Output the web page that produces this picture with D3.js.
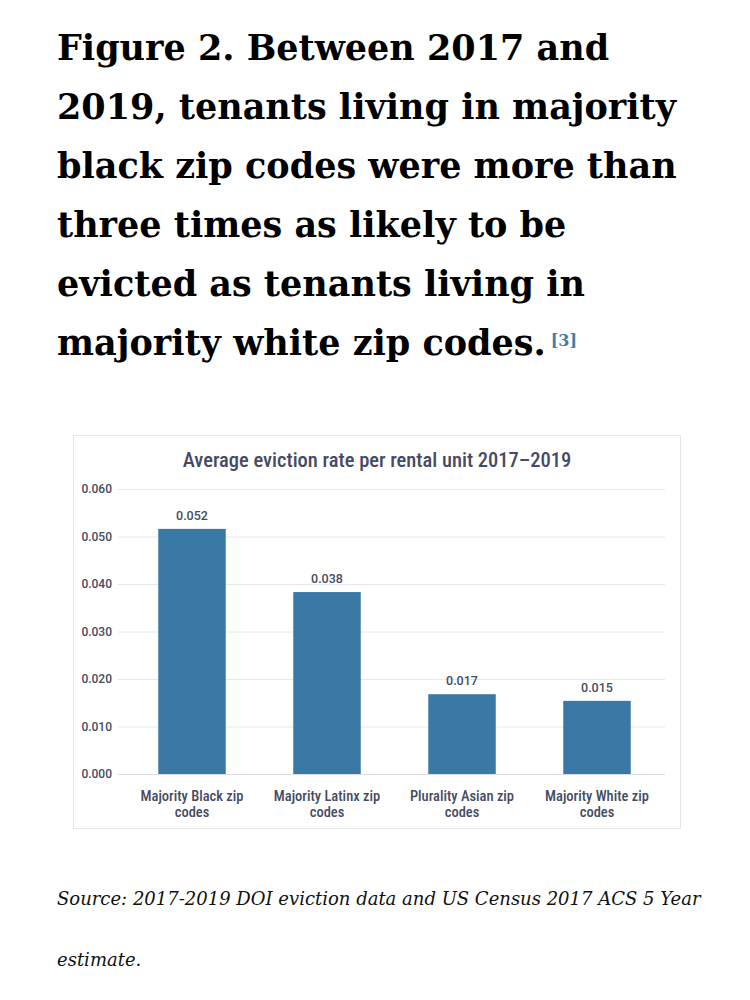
<!DOCTYPE html>
<html>
<head>
<meta charset="utf-8">
<script src="https://cdn.jsdelivr.net/npm/d3@7"></script>
<style>
  body { margin: 0; background: #fff; }
</style>
</head>
<body>
<svg id="chart" width="750" height="1000"></svg>
<script>
// headline + notes
var headlineLines = [
  "Figure 2. Between 2017 and",
  "2019, tenants living in majority",
  "black zip codes were more than",
  "three times as likely to be",
  "evicted as tenants living in",
  "majority white zip codes."
];
var footnoteMark = "[3]";
var sourceLines = [
  "Source: 2017-2019 DOI eviction data and US Census 2017 ACS 5 Year",
  "estimate."
];

// chart data
var chartTitle = "Average eviction rate per rental unit 2017\u20132019";
var categories = [
  ["Majority Black zip", "codes"],
  ["Majority Latinx zip", "codes"],
  ["Plurality Asian zip", "codes"],
  ["Majority White zip", "codes"]
];
var rates = [0.0516, 0.0383, 0.0168, 0.0154];
var rateLabels = ["0.052", "0.038", "0.017", "0.015"];
var yTicks = [0, 0.01, 0.02, 0.03, 0.04, 0.05, 0.06];

var svg = d3.select("#chart");
var ink = "#454b62";
var barColor = "#3a79a6";
var serif = "'DejaVu Serif', Georgia, serif";
var cond = "'Liberation Sans Narrow', 'Roboto Condensed', 'Arial Narrow', Roboto, sans-serif";
var nums = "Roboto, 'Liberation Sans', sans-serif";

// headline
var head = svg.append("g").attr("class", "headline");
head.selectAll("text")
  .data(headlineLines)
  .enter()
  .append("text")
  .attr("x", 57)
  .attr("y", function(d, i) { return 60 + i * 59; })
  .style("font-family", serif)
  .style("font-weight", "bold")
  .style("font-size", "35px")
  .style("fill", "#000")
  .text(function(d) { return d; });

// footnote marker after the last line
var lastLine = head.selectAll("text").nodes()[headlineLines.length - 1];
var lastW = lastLine.getComputedTextLength();
head.append("text")
  .attr("x", 57 + lastW + 5)
  .attr("y", 346)
  .style("font-family", serif)
  .style("font-size", "16px")
  .style("font-weight", "bold")
  .style("fill", "#3d7fab")
  .text(footnoteMark);

// chart frame
svg.append("rect")
  .attr("x", 73.5).attr("y", 435.5)
  .attr("width", 607).attr("height", 393)
  .style("fill", "#fff")
  .style("stroke", "#e3e5ea");

svg.append("text")
  .attr("x", 377).attr("y", 467)
  .attr("text-anchor", "middle")
  .style("font-family", cond)
  .style("font-size", "20.5px")
  .style("font-weight", "500")
  .style("fill", ink)
  .text(chartTitle);

// scales
var y = d3.scaleLinear().domain([0, 0.06]).range([774, 489]);
var x = d3.scaleBand()
  .domain(d3.range(categories.length))
  .range([124.5, 664.5])
  .paddingInner(0.5)
  .paddingOuter(0.25);

// gridlines + y labels
var yAxis = d3.axisLeft(y)
  .tickValues(yTicks)
  .tickSize(-547)
  .tickFormat(d3.format(".3f"));

var gy = svg.append("g")
  .attr("transform", "translate(118,0)")
  .call(yAxis);
gy.select(".domain").remove();
gy.selectAll(".tick line")
  .style("stroke", function(d) { return d === 0 ? "#d9dce4" : "#e6e8ef"; })
  .style("stroke-width", 1);
gy.selectAll(".tick text")
  .attr("x", -6)
  .style("font-family", nums)
  .style("font-weight", "500")
  .style("font-size", "12px")
  .style("fill", ink);

// bars
var bars = svg.selectAll(".bar")
  .data(rates)
  .enter()
  .append("g")
  .attr("class", "bar");

bars.append("rect")
  .attr("x", function(d, i) { return x(i); })
  .attr("y", function(d) { return y(d); })
  .attr("width", x.bandwidth())
  .attr("height", function(d) { return y(0) - y(d); })
  .style("fill", barColor);

bars.append("text")
  .attr("x", function(d, i) { return x(i) + x.bandwidth() / 2; })
  .attr("y", function(d) { return y(d) - 9; })
  .attr("text-anchor", "middle")
  .style("font-family", nums)
  .style("font-weight", "500")
  .style("font-size", "12.5px")
  .style("fill", ink)
  .text(function(d, i) { return rateLabels[i]; });

// category labels
var cats = svg.selectAll(".cat")
  .data(categories)
  .enter()
  .append("text")
  .attr("class", "cat")
  .attr("text-anchor", "middle")
  .style("font-family", cond)
  .style("font-weight", "500")
  .style("font-size", "14.5px")
  .style("fill", ink);

cats.selectAll("tspan")
  .data(function(d, i) { return d.map(function(s) { return {s: s, i: i}; }); })
  .enter()
  .append("tspan")
  .attr("x", function(d) { return x(d.i) + x.bandwidth() / 2; })
  .attr("y", function(d, j) { return 801 + j * 16; })
  .text(function(d) { return d.s; });

// source
svg.append("g").selectAll("text")
  .data(sourceLines)
  .enter()
  .append("text")
  .attr("x", 57)
  .attr("y", function(d, i) { return 905 + i * 61; })
  .style("font-family", serif)
  .style("font-style", "italic")
  .style("font-size", "18px")
  .style("fill", "#111")
  .text(function(d) { return d; });
</script>
</body>
</html>
